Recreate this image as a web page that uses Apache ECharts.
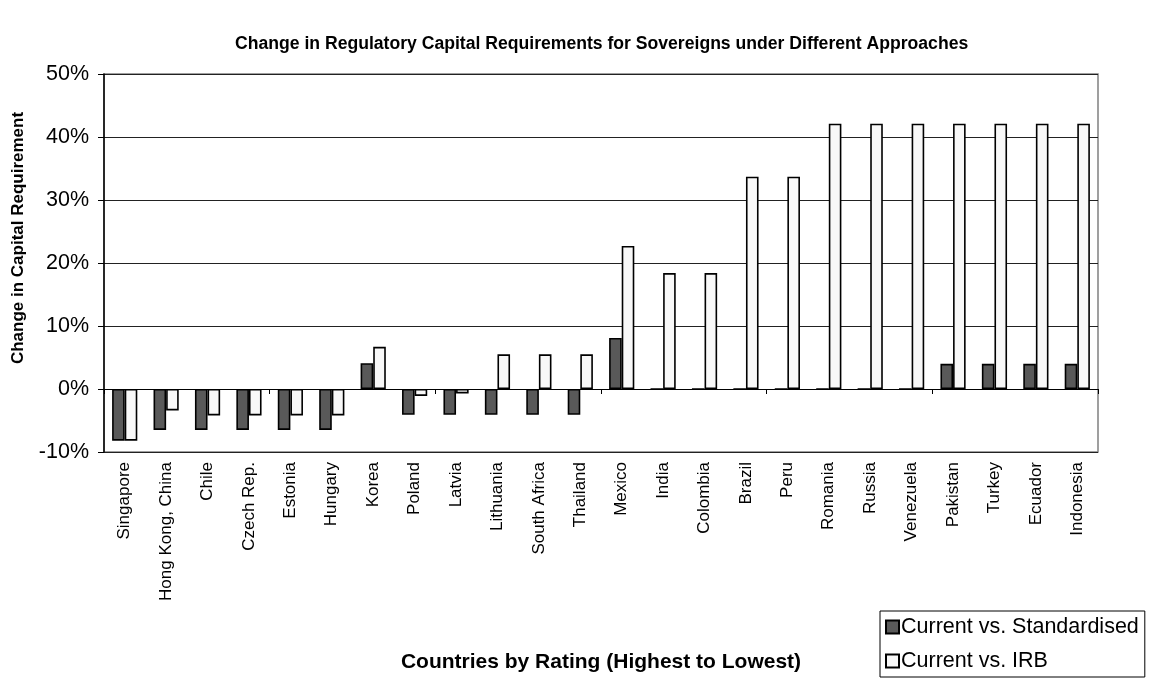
<!DOCTYPE html>
<html>
<head>
<meta charset="utf-8">
<script src="https://cdn.jsdelivr.net/npm/echarts@6/dist/echarts.min.js"></script>
<style>html,body{margin:0;padding:0;background:#fff}#c{width:1152px;height:680px}</style>
</head>
<body>
<div id="c"></div>
<script>
const categories = ["Singapore","Hong Kong, China","Chile","Czech Rep.","Estonia","Hungary","Korea","Poland","Latvia","Lithuania","South Africa","Thailand","Mexico","India","Colombia","Brazil","Peru","Romania","Russia","Venezuela","Pakistan","Turkey","Ecuador","Indonesia"];
const standardised = [-8.2,-6.5,-6.5,-6.5,-6.5,-6.5,4.1,-4.1,-4.1,-4.1,-4.1,-4.1,8.1,0,0,0,0,0,0,0,4.0,4.0,4.0,4.0];
const irb = [-8.2,-3.4,-4.2,-4.2,-4.2,-4.2,6.7,-1.1,-0.7,5.5,5.5,5.5,22.7,18.4,18.4,33.7,33.7,42.1,42.1,42.1,42.1,42.1,42.1,42.1];
const yTicks = {min:-10,max:50,interval:10};

const font = 'Liberation Sans, Arial, sans-serif';
const chart = echarts.init(document.getElementById('c'));
chart.setOption({
  animation:false,
  backgroundColor:'#fff',
  title:{text:'Change in Regulatory Capital Requirements for Sovereigns under Different Approaches',
    left:230,top:30,textStyle:{fontFamily:font,fontWeight:'bold',fontSize:17.6,color:'#000'}},
  grid:{left:104,right:54,top:74,bottom:228,show:true,borderColor:'#808080',borderWidth:1.5,backgroundColor:'#fff'},
  legend:{orient:'vertical',left:880,top:611,itemWidth:13,itemHeight:13,itemGap:12,
    padding:[5,6,5,5],borderColor:'#000',borderWidth:1,backgroundColor:'#fff',
    textStyle:{fontFamily:font,fontSize:21.5,color:'#000',padding:[0,0,0,-3]},
    data:[{name:'Current vs. Standardised',icon:'rect'},{name:'Current vs. IRB',icon:'rect'}]},
  graphic:[{type:'text',x:18,y:238,rotation:Math.PI/2,
    style:{text:'Change in Capital Requirement',fontFamily:font,fontWeight:'bold',fontSize:17,fill:'#000',
      textAlign:'center',textVerticalAlign:'middle'}}],
  xAxis:[{type:'category',data:categories,position:'bottom',
      axisLine:{show:false,onZero:false},axisTick:{show:false},
      axisLabel:{rotate:90,interval:0,fontFamily:font,fontSize:17,color:'#000',margin:10},
      name:'Countries by Rating (Highest to Lowest)',nameLocation:'middle',nameGap:200,
      nameTextStyle:{fontFamily:font,fontWeight:'bold',fontSize:21,color:'#000'}},
    {type:'category',data:categories,position:'bottom',
      axisLine:{show:true,onZero:true,lineStyle:{color:'#000',width:1}},
      axisTick:{show:true,length:5,inside:false,lineStyle:{color:'#000',width:1}},
      axisLabel:{show:false},splitLine:{show:false}}],
  yAxis:{type:'value',min:yTicks.min,max:yTicks.max,interval:yTicks.interval,
    axisLine:{show:true,lineStyle:{color:'#000',width:1.5}},
    axisTick:{show:true,length:6,lineStyle:{color:'#000'}},
    axisLabel:{formatter:'{value}%',fontFamily:font,fontSize:21.5,color:'#000',margin:15},
    splitLine:{show:true,lineStyle:{color:'#222',width:1}}},
  series:[
    {name:'Current vs. Standardised',type:'bar',xAxisIndex:0,data:standardised,barWidth:12.6,barGap:'0%',
      itemStyle:{color:'#595959',borderColor:'#000',borderWidth:1.6}},
    {name:'Current vs. IRB',type:'bar',xAxisIndex:0,data:irb,barWidth:12.6,barGap:'0%',
      itemStyle:{color:'#f8f8f8',borderColor:'#000',borderWidth:1.6}}
  ]
});
</script>
</body>
</html>
